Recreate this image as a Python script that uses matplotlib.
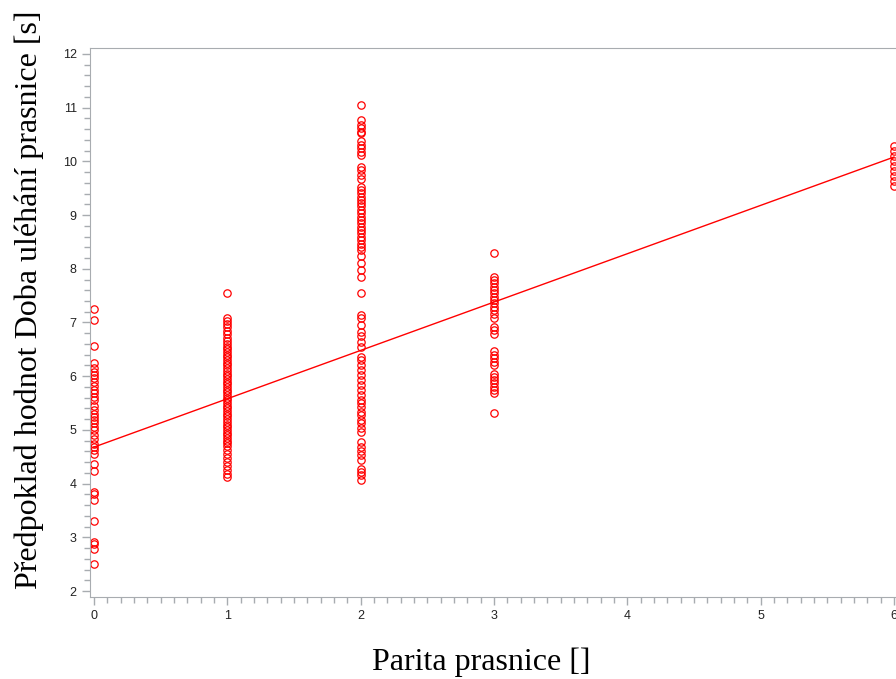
import matplotlib
matplotlib.use('Agg')
import matplotlib.pyplot as plt
import numpy as np
from matplotlib.ticker import MultipleLocator

# Data
parita_0 = [7.25, 7.04, 6.56, 6.25, 6.15, 6.08, 6.02, 5.96, 5.90, 5.82, 5.75, 5.69,
            5.62, 5.55, 5.44, 5.37, 5.30, 5.24, 5.18, 5.12, 5.06, 5.00, 4.90, 4.83,
            4.74, 4.68, 4.62, 4.56, 4.36, 4.24, 3.84, 3.80, 3.70, 3.30, 2.92, 2.88,
            2.79, 2.51]
parita_1 = [7.55, 7.08, 7.03, 6.98, 6.92, 6.85, 6.78, 6.72, 6.66, 6.60, 6.55, 6.50,
            6.45, 6.40, 6.35, 6.30, 6.25, 6.20, 6.15, 6.10, 6.05, 6.00, 5.95, 5.90,
            5.85, 5.80, 5.75, 5.70, 5.65, 5.60, 5.55, 5.50, 5.45, 5.40, 5.35, 5.30,
            5.25, 5.20, 5.15, 5.10, 5.05, 5.00, 4.95, 4.90, 4.85, 4.80, 4.75, 4.70,
            4.62, 4.55, 4.48, 4.40, 4.32, 4.25, 4.18, 4.12]
parita_2 = [11.05, 10.77, 10.68, 10.62, 10.55, 10.52, 10.37, 10.31, 10.24, 10.18,
            10.12, 9.90, 9.84, 9.75, 9.67, 9.53, 9.47, 9.41, 9.34, 9.28, 9.22, 9.16,
            9.09, 9.03, 8.97, 8.91, 8.85, 8.78, 8.72, 8.66, 8.60, 8.54, 8.47, 8.41,
            8.35, 8.23, 8.10, 7.98, 7.85, 7.54,
            7.14, 7.08, 6.95, 6.83, 6.74, 6.64, 6.55, 6.36, 6.30, 6.21, 6.12, 6.02,
            5.93, 5.84, 5.74, 5.65, 5.56, 5.50, 5.43, 5.34, 5.28, 5.18, 5.12, 5.03,
            4.97, 4.78, 4.69, 4.60, 4.53, 4.44, 4.28, 4.22, 4.16, 4.07]
parita_3 = [8.30, 7.85, 7.79, 7.73, 7.67, 7.61, 7.54, 7.48, 7.42, 7.36, 7.29, 7.23,
            7.16, 7.08, 6.92, 6.86, 6.79, 6.46, 6.39, 6.33, 6.27, 6.21, 6.05, 5.99,
            5.93, 5.87, 5.80, 5.74, 5.68, 5.31]
parita_6 = [10.29, 10.19, 10.10, 10.00, 9.91, 9.82, 9.73, 9.63, 9.54]

groups = {0: parita_0, 1: parita_1, 2: parita_2, 3: parita_3, 6: parita_6}

# regression line
fit_intercept = 4.68
fit_slope = 0.90
fit_x = [0, 6]

x_ticks = [0, 1, 2, 3, 4, 5, 6]
y_ticks = [2, 3, 4, 5, 6, 7, 8, 9, 10, 11, 12]

fig = plt.figure(figsize=(8.96, 6.79), dpi=100)
ax = fig.add_axes([0.1004, 0.1208, 0.9018, 0.8085])

for xv, ys in groups.items():
    ax.plot([xv] * len(ys), ys, linestyle='none', marker='o', markersize=5.3,
            markerfacecolor='none', markeredgecolor='#ff0000', markeredgewidth=0.9)

fx = np.array(fit_x)
ax.plot(fx, fit_intercept + fit_slope * fx, color='#ff0000', linewidth=1.0)

ax.set_xlim(-0.03, 6.03)
ax.set_ylim(1.89, 12.11)
ax.set_xticks(x_ticks)
ax.set_yticks(y_ticks)
ax.xaxis.set_minor_locator(MultipleLocator(0.1))
ax.yaxis.set_minor_locator(MultipleLocator(0.2))

spine_col = '#a8acb0'
for s in ['left', 'bottom', 'top']:
    ax.spines[s].set_color(spine_col)
ax.spines['right'].set_visible(False)

ax.tick_params(axis='both', which='major', direction='out', length=6, width=1,
               color=spine_col, labelsize=9, labelcolor='#222222',
               labelfontfamily='Liberation Sans')
ax.tick_params(axis='both', which='minor', direction='out', length=4, width=1,
               color=spine_col)
ax.tick_params(top=False, right=False, which='both')

ax.set_xlabel('Parita prasnice []', fontfamily='Liberation Serif', fontsize=23)
ax.set_ylabel('Předpoklad hodnot Doba uléhání prasnice [s]',
              fontfamily='Liberation Serif', fontsize=23)
ax.xaxis.set_label_coords(0.4845, -0.0926)
ax.yaxis.set_label_coords(-0.057, 0.541)

fig.savefig('out.png', dpi=100)
